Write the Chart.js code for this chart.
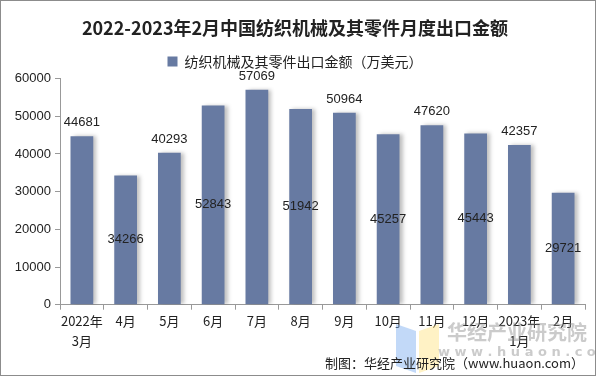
<!DOCTYPE html>
<html>
<head>
<meta charset="utf-8">
<script src="https://cdn.jsdelivr.net/npm/chart.js@4.4.1/dist/chart.umd.min.js"></script>
<style>
  html, body { margin: 0; padding: 0; background: #fff; }
  #wrap { width: 596px; height: 376px; position: relative; box-sizing: border-box; border: 1px solid #8c8c8c; }
</style>
</head>
<body>
<div id="wrap"><canvas id="exportChart" width="594" height="374"></canvas></div>
<script>
// months, 2022.3 - 2023.2
const months = [["2022年", "3月"], "4月", "5月", "6月", "7月", "8月", "9月", "10月", "11月", "12月", ["2023年", "1月"], "2月"];
const exportValues = [44681, 34266, 40293, 52843, 57069, 51942, 50964, 45257, 47620, 45443, 42357, 29721];
const yTicks = [0, 10000, 20000, 30000, 40000, 50000, 60000];

const barColor = "#677aa2";

// value labels: even bars on top, odd bars in the middle
const valueLabels = {
  id: "valueLabels",
  afterDatasetsDraw(chart) {
    const ctx = chart.ctx;
    const meta = chart.getDatasetMeta(0);
    ctx.save();
    ctx.font = "13px 'Liberation Sans', Arial, sans-serif";
    ctx.fillStyle = "#222";
    ctx.textAlign = "center";
    meta.data.forEach((bar, i) => {
      if (i % 2 === 0) {
        ctx.textBaseline = "bottom";
        ctx.fillText(exportValues[i], bar.x, bar.y - 7);
      } else {
        ctx.textBaseline = "middle";
        ctx.fillText(exportValues[i], bar.x, (bar.y + bar.base) / 2);
      }
    });
    ctx.restore();
  }
};

// soft shadow on the right of the bars
const barShadow = {
  id: "barShadow",
  beforeDatasetsDraw(chart) {
    const ctx = chart.ctx;
    ctx.save();
    ctx.shadowColor = "rgba(0,0,0,0.25)";
    ctx.shadowBlur = 4;
    ctx.shadowOffsetX = 3;
    ctx.shadowOffsetY = 0;
  },
  afterDatasetsDraw(chart) {
    chart.ctx.restore();
  }
};

// watermark + source line
const footer = {
  id: "footer",
  afterDraw(chart) {
    const ctx = chart.ctx;
    ctx.save();
    // logo
    ctx.fillStyle = "rgba(120,170,240,0.45)";
    ctx.beginPath();
    ctx.moveTo(395, 323); ctx.lineTo(415, 330); ctx.lineTo(415, 372); ctx.lineTo(395, 365);
    ctx.fill();
    ctx.fillStyle = "rgba(255,230,140,0.5)";
    ctx.beginPath();
    ctx.moveTo(418, 330); ctx.lineTo(438, 323); ctx.lineTo(438, 365); ctx.lineTo(418, 372);
    ctx.fill();
    ctx.fillStyle = "rgba(140,140,140,0.45)";
    ctx.font = "bold 20px 'Noto Sans CJK SC', sans-serif";
    ctx.textAlign = "left";
    ctx.textBaseline = "middle";
    ctx.fillText("华经产业研究院", 446, 331);
    ctx.font = "bold 13px 'DejaVu Sans', sans-serif";
    ctx.fillText("w w w . h u a o n . c o m", 437, 352);
    ctx.fillStyle = "#222";
    ctx.font = "13px 'Noto Sans CJK SC', sans-serif";
    ctx.textAlign = "right";
    ctx.fillText("制图：华经产业研究院（www.huaon.com）", 583, 362);
    ctx.restore();
  }
};

new Chart(document.getElementById("exportChart"), {
  type: "bar",
  data: {
    labels: months,
    datasets: [{
      label: "纺织机械及其零件出口金额（万美元）",
      data: exportValues,
      backgroundColor: barColor,
      barPercentage: 0.52,
      categoryPercentage: 1.0
    }]
  },
  options: {
    responsive: false,
    animation: false,
    layout: { padding: { left: 4, right: 10, top: 4, bottom: 23 } },
    scales: {
      x: {
        grid: { offset: true, drawOnChartArea: false, drawTicks: true, tickLength: 5, color: "#999" },
        border: { color: "#999" },
        ticks: {
          color: "#222",
          font: { size: 13, family: "'Noto Sans CJK SC', sans-serif", lineHeight: 1.55 },
          maxRotation: 0,
          autoSkip: false,
          padding: 1
        }
      },
      y: {
        min: 0,
        max: 60000,
        afterBuildTicks(axis) { axis.ticks = yTicks.map(v => ({ value: v })); },
        afterFit(axis) { axis.width = 55; },
        grid: { drawOnChartArea: false, drawTicks: true, tickLength: 5, color: "#999" },
        border: { color: "#999" },
        ticks: {
          color: "#222",
          font: { size: 13, family: "'Liberation Sans', Arial, sans-serif" },
          padding: 4,
          callback: v => String(v)
        }
      }
    },
    plugins: {
      title: {
        display: true,
        text: "2022-2023年2月中国纺织机械及其零件月度出口金额",
        color: "#222",
        font: { size: 18, weight: "bold", family: "'Noto Sans CJK SC', sans-serif" },
        padding: { top: 12, bottom: 8 }
      },
      legend: {
        display: true,
        labels: {
          color: "#222",
          font: { size: 14, family: "'Noto Sans CJK SC', sans-serif" },
          boxWidth: 10,
          boxHeight: 10,
          padding: 8
        }
      },
      tooltip: { enabled: false }
    }
  },
  plugins: [barShadow, valueLabels, footer]
});
</script>
</body>
</html>
